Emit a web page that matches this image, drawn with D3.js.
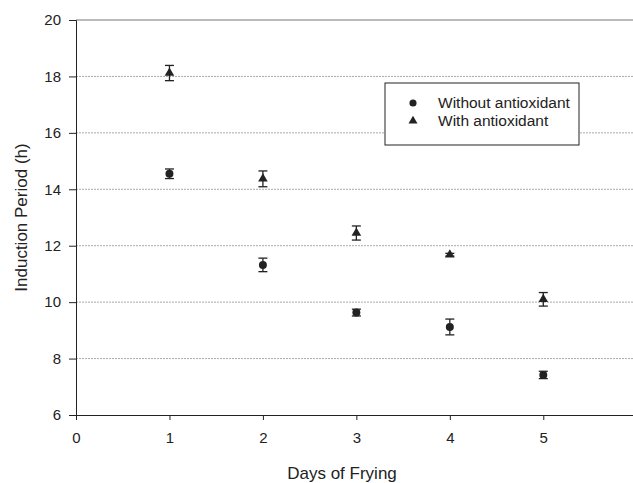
<!DOCTYPE html>
<html>
<head>
<meta charset="utf-8">
<script src="https://cdn.jsdelivr.net/npm/d3@7"></script>
<style>
  body { margin: 0; background: #fff; }
  text { font-family: "Liberation Sans", Arial, sans-serif; fill: #222; }
</style>
</head>
<body>
<div id="chart"></div>
<script>
// data
const days = [1, 2, 3, 4, 5];
const withoutAO = [14.55, 11.32, 9.63, 9.12, 7.42];
const withoutAOErr = [0.17, 0.24, 0.12, 0.28, 0.13];
const withAO = [18.12, 14.37, 12.45, 11.68, 10.1];
const withAOErr = [0.27, 0.28, 0.25, 0.05, 0.24];
const xTicks = [0, 1, 2, 3, 4, 5];
const yTicks = [6, 8, 10, 12, 14, 16, 18, 20];

const W = 633, H = 483;
const svg = d3.select("#chart").append("svg")
    .attr("width", W)
    .attr("height", H);

const x = d3.scaleLinear().domain([0, 5.96]).range([76, 633]);
const y = d3.scaleLinear().domain([6, 20]).range([415, 20]);

// gridlines (dotted, light)
svg.append("g")
    .selectAll("line")
    .data(yTicks.filter(d => d > 6))
    .enter().append("line")
    .attr("x1", x(0)).attr("x2", W)
    .attr("y1", d => y(d)).attr("y2", d => y(d))
    .attr("stroke", d => d === 20 ? "#777" : "#aaa")
    .attr("stroke-width", 1)
    .attr("stroke-dasharray", d => d === 20 ? null : "2,1");

// y axis
const yAxis = svg.append("g")
    .attr("transform", `translate(${x(0)},0)`)
    .call(d3.axisLeft(y).tickValues(yTicks).tickSize(7).tickPadding(8).tickFormat(d3.format("d")));
yAxis.select(".domain").attr("stroke", "#222");
yAxis.selectAll(".tick line").attr("stroke", "#222");
yAxis.selectAll("text").style("font-size", "15px").attr("fill", "#222");

// x axis
const xAxis = svg.append("g")
    .attr("transform", `translate(0,${y(6)})`)
    .call(d3.axisBottom(x).tickValues(xTicks).tickSize(5).tickPadding(12).tickFormat(d3.format("d")));
xAxis.select(".domain").attr("stroke", "#222");
xAxis.selectAll(".tick line").attr("stroke", "#222");
xAxis.selectAll("text").style("font-size", "15px").attr("fill", "#222");

// axis titles
svg.append("text")
    .attr("transform", `translate(27,${y(13)}) rotate(-90)`)
    .attr("text-anchor", "middle")
    .style("font-size", "17px")
    .text("Induction Period (h)");

svg.append("text")
    .attr("x", 342)
    .attr("y", 479)
    .attr("text-anchor", "middle")
    .style("font-size", "17px")
    .text("Days of Frying");

// error bars + markers
function drawSeries(vals, errs, symbol, size) {
    const g = svg.append("g");
    days.forEach((d, i) => {
        const cx = x(d);
        const top = y(vals[i] + errs[i]), bot = y(vals[i] - errs[i]);
        g.append("line").attr("x1", cx).attr("x2", cx).attr("y1", top).attr("y2", bot)
            .attr("stroke", "#222").attr("stroke-width", 1.3);
        [top, bot].forEach(yy => {
            g.append("line").attr("x1", cx - 4.5).attr("x2", cx + 4.5).attr("y1", yy).attr("y2", yy)
                .attr("stroke", "#222").attr("stroke-width", 1.3);
        });
        g.append("path")
            .attr("d", d3.symbol().type(symbol).size(size)())
            .attr("transform", `translate(${cx},${y(vals[i])})`)
            .attr("fill", "#222");
    });
}
drawSeries(withoutAO, withoutAOErr, d3.symbolCircle, 50);
drawSeries(withAO, withAOErr, d3.symbolTriangle, 40);

// legend
const legend = svg.append("g").attr("transform", "translate(385,83)");
legend.append("rect")
    .attr("width", 194).attr("height", 62)
    .attr("fill", "#fff").attr("stroke", "#222").attr("stroke-width", 1);
const items = [["Without antioxidant", d3.symbolCircle, 40], ["With antioxidant", d3.symbolTriangle, 35]];
items.forEach((it, i) => {
    const yy = 20 + i * 18;
    legend.append("path")
        .attr("d", d3.symbol().type(it[1]).size(it[2])())
        .attr("transform", `translate(28,${yy})`)
        .attr("fill", "#222");
    legend.append("text")
        .attr("x", 53).attr("y", yy + 5)
        .style("font-size", "15.5px")
        .text(it[0]);
});
</script>
</body>
</html>
